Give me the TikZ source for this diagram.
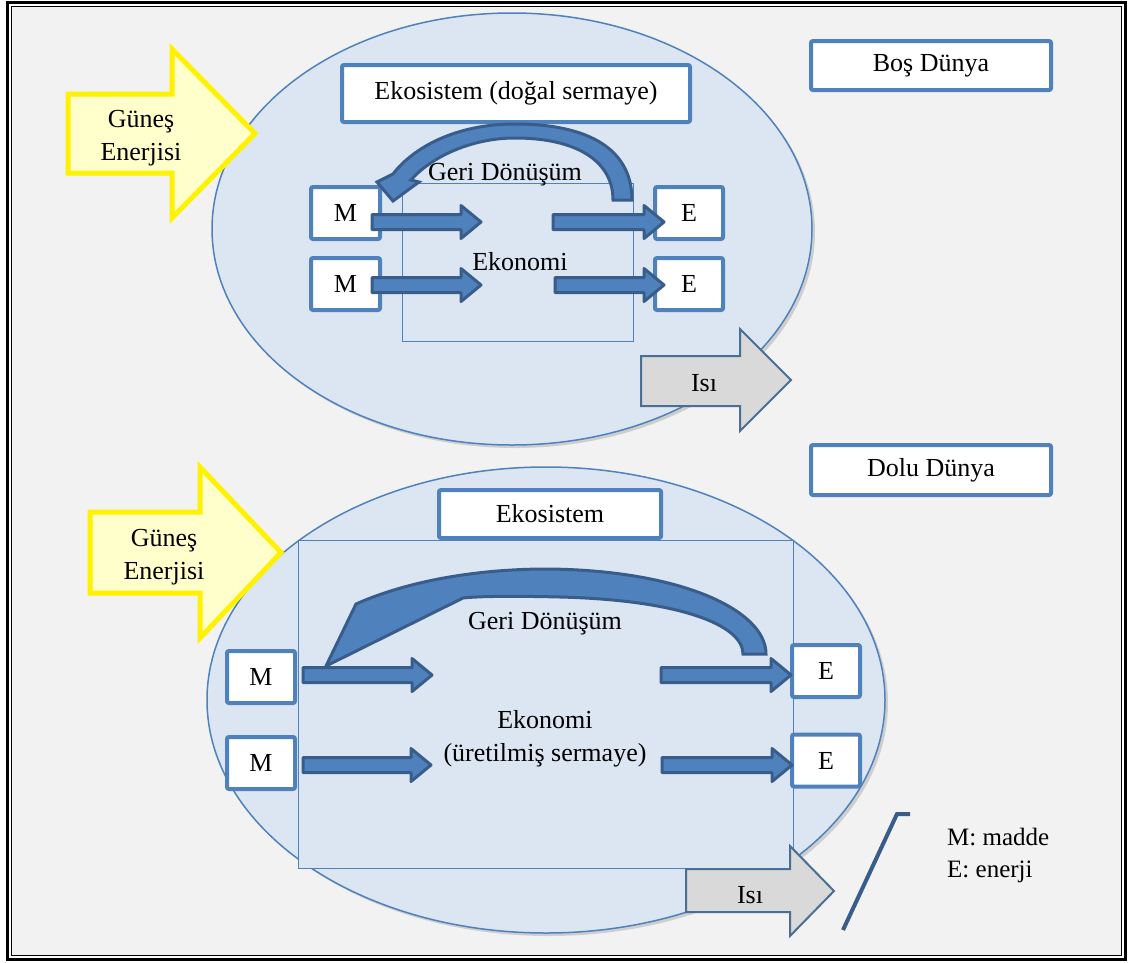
\documentclass[tikz,border=0pt]{standalone}
\usepackage{fontspec}
\setmainfont{Liberation Serif}
\usetikzlibrary{calc,shadows}

\definecolor{kutumavi}{HTML}{4F81BD}
\definecolor{koyumavi}{HTML}{385D8A}
\definecolor{dunyarenk}{HTML}{DCE6F2}
\definecolor{zemin}{HTML}{F2F2F2}
\definecolor{gunesrenk}{HTML}{FFFFCC}
\definecolor{isirenk}{HTML}{D9D9D9}
\definecolor{isikenar}{HTML}{4A6F94}

\begin{document}
\begin{tikzpicture}[x=1pt,y=-1pt,font=\fontsize{26}{33}\selectfont]
\tikzset{kutu/.style={draw=kutumavi, line width=4pt, fill=white, rounded corners=2pt, inner sep=0pt},
  yazi/.style={inner sep=0pt},
  dunya/.style={draw=kutumavi, line width=1.5pt, fill=dunyarenk,
    drop shadow={shadow xshift=3pt, shadow yshift=-3pt, opacity=0.25, fill=black!60}},
  kalin/.style={draw=koyumavi, fill=kutumavi, line width=3pt, line join=round,
    to path={let \p1=(\tikztostart), \p2=(\tikztotarget) in
      (\x1,\y1+7.5) -- (\x2-20,\y1+7.5) -- (\x2-20,\y1+16.5) -- (\x2,\y1)
      -- (\x2-20,\y1-16.5) -- (\x2-20,\y1-7.5) -- (\x1,\y1-7.5) -- cycle}},
  donus/.style={draw=koyumavi, fill=kutumavi, line width=3pt, line join=miter},
  gunesok/.style={draw=yellow, fill=gunesrenk, line width=5pt, line join=miter},
  isiok/.style={draw=isikenar, fill=isirenk, line width=2pt, line join=miter}}
\useasboundingbox (0,0) rectangle (1128,962);
% frame
\fill[white] (0,0) rectangle (1128,962);
\fill[zemin] (11.5,6.5) rectangle (1121.5,955.5);
\draw[line width=2.5pt] (7.5,2.5) rectangle (1125.5,959.5);
\draw[line width=1pt] (11.5,6.5) rectangle (1121.5,955.5);

% bos dunya
\draw[dunya] (512,229) ellipse [x radius=300pt, y radius=216pt];
\draw[kutumavi, line width=1pt] (402,183) rectangle (633,341);
\node[kutu, minimum width=348pt, minimum height=57pt] (eko1) at (516,93.5) {Ekosistem (doğal sermaye)};
\node[kutu, minimum width=240pt, minimum height=49pt] (bos) at (931,65.5) {Boş Dünya};
\node[kutu, minimum width=69pt, minimum height=52pt] (M1) at (345.5,213) {M};
\node[kutu, minimum width=69pt, minimum height=52pt] (M2) at (345.5,284) {M};
\node[kutu, minimum width=68pt, minimum height=52pt] (E1) at (689,213) {E};
\node[kutu, minimum width=68pt, minimum height=52pt] (E2) at (689,284) {E};
\coordinate (u1) at (481,222);
\coordinate (u2) at (481,285);
\coordinate (v1) at (553,222);
\coordinate (v2) at (555,285);
\draw[kalin] ([xshift=-10pt,yshift=-9pt]M1.east) to (u1);
\draw[kalin] ([xshift=-10pt,yshift=-1pt]M2.east) to (u2);
\draw[kalin] (v1) to ([xshift=11pt]E1.west);
\draw[kalin] (v2) to ([xshift=11pt]E2.west);
\draw[donus] (632,200) .. controls (632,150) and (590,124) .. (515,124)
  .. controls (455,124) and (413,148) .. (393,174) -- (377,182) -- (393,201)
  -- (419,182) -- (411,180) .. controls (430,158) and (470,138) .. (515,138)
  .. controls (575,138) and (613,160) .. (613,200) -- cycle;
\node[yazi, anchor=base] (geri1) at (505,180) {Geri Dönüşüm};
\node[yazi, anchor=base] (ekonomi1) at (520,270) {Ekonomi};
\draw[gunesok] (68,94) -- (172,94) -- (172,49) -- (255,133.5) -- (172,218)
  -- (172,173) -- (68,173) -- cycle;
\node[yazi, align=center] (gunes1) at (141,138) {Güneş\\Enerjisi};
\draw[isiok] (641,356) -- (740,356) -- (740,329) -- (791,380) -- (740,431)
  -- (740,406) -- (641,406) -- cycle;
\node[yazi, anchor=base] (isi1) at (704,391) {Isı};

% dolu dunya
\draw[dunya] (546,700) ellipse [x radius=339pt, y radius=233pt];
\draw[kutumavi, line width=1pt, fill=dunyarenk] (298,540) rectangle (793,868);
\node[kutu, minimum width=222pt, minimum height=48pt] (eko2) at (550,514) {Ekosistem};
\node[kutu, minimum width=240pt, minimum height=50pt] (dolu) at (931,470) {Dolu Dünya};
\node[kutu, minimum width=68pt, minimum height=52pt] (M3) at (261,677) {M};
\node[kutu, minimum width=68pt, minimum height=52pt] (M4) at (261,763) {M};
\node[kutu, minimum width=68pt, minimum height=52pt] (E3) at (826,671) {E};
\node[kutu, minimum width=68pt, minimum height=52pt] (E4) at (826,760.5) {E};
\coordinate (u3) at (432,675);
\coordinate (u4) at (431,765);
\coordinate (v3) at (661,675);
\coordinate (v4) at (662,765);
\draw[kalin] ([xshift=6pt,yshift=2pt]M3.east) to (u3);
\draw[kalin] ([xshift=6pt,yshift=-2pt]M4.east) to (u4);
\draw[kalin] (v3) to ([xshift=1pt]E3.west);
\draw[kalin] (v4) to ([xshift=2pt]E4.west);
\draw[donus] (326,666) -- (356,604) .. controls (410,580) and (480,569) .. (547,569)
  .. controls (680,570) and (766,610) .. (766,654) -- (743,654)
  .. controls (743,625) and (680,600) .. (560,597)
  .. controls (520,596) and (480,596) .. (463,598) -- cycle;
\node[yazi, anchor=base] (geri2) at (545,629) {Geri Dönüşüm};
\node[yazi, align=center] (ekonomi2) at (545,739) {Ekonomi\\(üretilmiş sermaye)};
\draw[gunesok] (90,512) -- (200,512) -- (200,467) -- (281,552.5) -- (200,638)
  -- (200,593) -- (90,593) -- cycle;
\node[yazi, align=center] (gunes2) at (164,557) {Güneş\\Enerjisi};
\draw[isiok] (686,869) -- (790,869) -- (790,846) -- (834,891) -- (790,936)
  -- (790,912) -- (686,912) -- cycle;
\node[yazi, anchor=base] (isi2) at (750,903) {Isı};

% legend
\draw[koyumavi, line width=4pt] (843,930) -- (897,814) -- (910,814);
\node[yazi, align=left, anchor=west, font=\fontsize{25}{32}\selectfont] (aciklama) at (947,855) {M: madde\\E: enerji};
\end{tikzpicture}
\end{document}
